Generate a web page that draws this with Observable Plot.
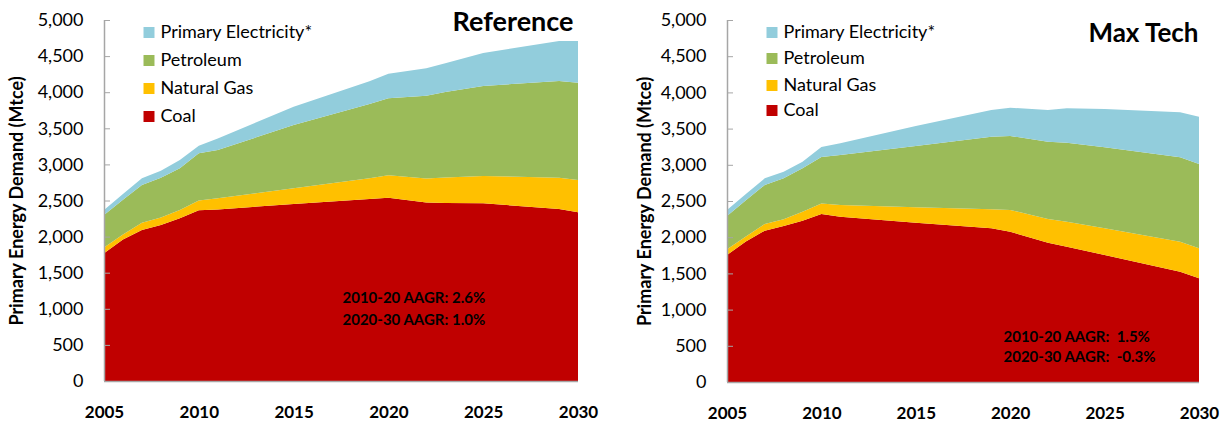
<!DOCTYPE html>
<html>
<head>
<meta charset="utf-8">
<script src="https://cdn.jsdelivr.net/npm/d3@7"></script>
<script src="https://cdn.jsdelivr.net/npm/@observablehq/plot@0.6"></script>
<style>
  html, body { margin: 0; padding: 0; background: #fff; }
  #wrap { position: relative; width: 1225px; height: 422px; display: flex; }
  #wrap > div { flex: none; }
</style>
</head>
<body>
<div id="wrap"><div id="left"></div><div id="right"></div></div>
<script>
// ---- data (Mtce) ----
const years = [2005, 2006, 2007, 2008, 2009, 2010, 2011, 2015, 2019, 2020, 2022, 2023, 2025, 2029, 2030];
const seriesNames = ["Coal", "Natural Gas", "Petroleum", "Primary Electricity*"];
const seriesColors = ["#C00000", "#FFC000", "#9BBB59", "#92CDDC"];
const legendOrder = ["Primary Electricity*", "Petroleum", "Natural Gas", "Coal"];

// Reference scenario
const refCoal = [1770, 1960, 2091, 2161, 2253, 2365, 2377, 2451, 2521, 2539, 2472, 2467, 2461, 2382, 2336];
const refGas  = [80, 70, 102, 105, 115, 135, 153, 218, 288, 309, 334, 350, 378, 434, 448];
const refPet  = [450, 480, 522, 550, 577, 653, 669, 877, 1027, 1067, 1144, 1186, 1247, 1339, 1348];
const refElec = [70, 80, 92, 97, 116, 107, 161, 254, 317, 340, 382, 397, 457, 554, 577];

// Max Tech scenario
const maxCoal = [1754, 1940, 2090, 2155, 2228, 2320, 2284, 2201, 2122, 2076, 1924, 1869, 1754, 1524, 1432];
const maxGas  = [79, 70, 92, 92, 125, 145, 161, 212, 263, 300, 327, 345, 368, 414, 414];
const maxPet  = [460, 500, 539, 566, 598, 643, 690, 847, 1003, 1022, 1068, 1092, 1119, 1165, 1165];
const maxElec = [83, 85, 92, 92, 92, 137, 162, 277, 369, 391, 438, 474, 530, 622, 654];

const yTicks = [0, 500, 1000, 1500, 2000, 2500, 3000, 3500, 4000, 4500, 5000];
const xTicks = [2005, 2010, 2015, 2020, 2025, 2030];
const yLabel = "Primary Energy Demand (Mtce)";

const refTitle = "Reference";
const maxTitle = "Max Tech";
const refNotes = ["2010-20 AAGR: 2.6%", "2020-30 AAGR: 1.0%"];
const maxNotes = ["2010-20 AAGR:  1.5%", "2020-30 AAGR:  -0.3%"];

const FONT = "Lato, 'Open Sans', sans-serif";

function toTidy(cols) {
  const rows = [];
  seriesNames.forEach((s, i) => {
    years.forEach((yr, j) => rows.push({year: yr, series: s, value: cols[i][j]}));
  });
  return rows;
}

function makeChart(o) {
  const data = toTidy(o.cols);
  const legend = legendOrder.map((s, i) => ({s, i}));
  return Plot.plot({
    width: o.width,
    height: 422,
    marginTop: 20,
    marginBottom: o.marginBottom,
    marginLeft: o.marginLeft,
    marginRight: o.marginRight,
    style: {fontFamily: FONT, background: "#fff", color: "#000", overflow: "visible"},
    x: {domain: [2005, 2030]},
    y: {domain: [0, 5000]},
    color: {domain: seriesNames, range: seriesColors},
    marks: [
      Plot.areaY(data, {x: "year", y: "value", fill: "series", order: seriesNames, curve: "linear"}),
      Plot.ruleX([2005], {stroke: "#a6a6a6", strokeWidth: 1.5}),
      Plot.ruleY([0], {stroke: "#a6a6a6", strokeWidth: 1.5}),
      Plot.axisY({ticks: yTicks, tickSize: 6, dx: 6, tickFormat: () => "", stroke: "#a6a6a6", label: null}),
      Plot.axisY({ticks: yTicks, tickSize: 0, tickPadding: 21, tickFormat: d3.format(","), fontSize: 18, fill: "#000", label: null}),
      Plot.axisX({ticks: xTicks, tickSize: 0, tickPadding: 24, tickFormat: d => String(d), fontSize: 17, fontWeight: "bold", fill: "#000", label: null}),
      Plot.text([yLabel], {frameAnchor: "left", rotate: -90, dx: o.labelDx, text: d => d, fontSize: 18, fontWeight: "bold", fill: "#000", textAnchor: "middle", lineAnchor: "middle"}),
      Plot.text([o.title], {frameAnchor: "top-left", dx: o.titleDx, dy: o.titleDy, text: d => d, fontSize: o.titleSize, fontWeight: "bold", fill: "#000", textAnchor: "end", lineAnchor: "middle"}),
      ...legend.map(d => Plot.dot([d], {frameAnchor: "top-left", dx: 44.5, dy: o.legendDy[d.i], symbol: "square", r: 6.2, fill: x => x.s})),
      ...legend.map(d => Plot.text([d], {frameAnchor: "top-left", dx: 56, dy: o.legendDy[d.i], text: x => x.s, fontSize: 18, fill: "#000", textAnchor: "start", lineAnchor: "middle"})),
      ...o.notes.map((n, i) => Plot.text([n], {frameAnchor: "top-left", dx: o.notesDx, dy: o.notesDy[i], text: d => d, fontSize: 15, fontWeight: "bold", fill: "#000", textAnchor: "start", lineAnchor: "middle", style: "white-space:pre"}))
    ]
  });
}

document.getElementById("left").append(makeChart({
  cols: [refCoal, refGas, refPet, refElec],
  width: 612, marginLeft: 104, marginRight: 34, marginBottom: 41,
  labelDx: -87,
  title: refTitle, titleSize: 27, titleDx: 469, titleDy: 2,
  legendDy: [12, 40, 68, 96],
  notes: refNotes, notesDx: 238, notesDy: [278, 300]
}));
document.getElementById("right").append(makeChart({
  cols: [maxCoal, maxGas, maxPet, maxElec],
  width: 613, marginLeft: 115, marginRight: 26, marginBottom: 40,
  labelDx: -82,
  title: maxTitle, titleSize: 26, titleDx: 471, titleDy: 13,
  legendDy: [12, 38, 65, 90],
  notes: maxNotes, notesDx: 276, notesDy: [317, 337]
}));
</script>
</body>
</html>
